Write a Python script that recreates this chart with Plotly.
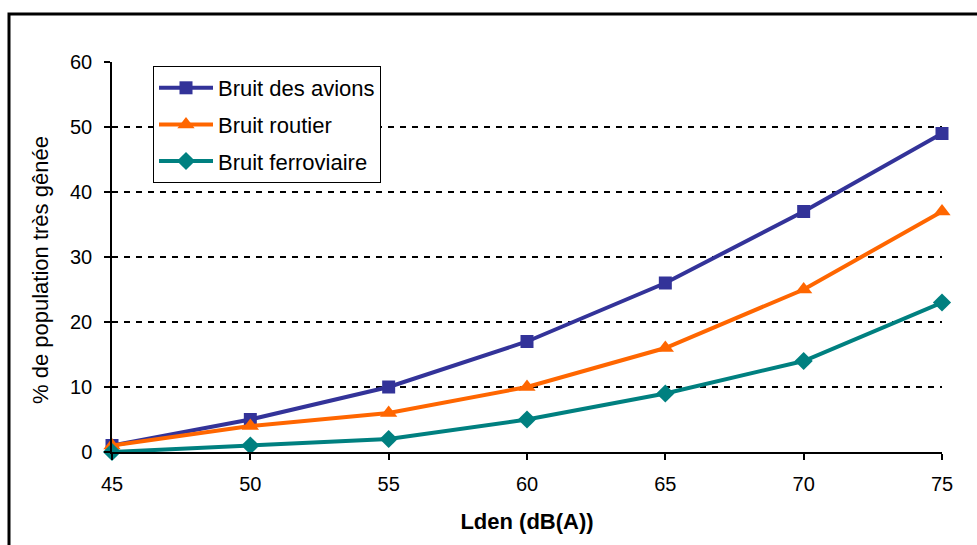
import plotly.graph_objects as go

# Lden levels (dB(A)) and share of population highly annoyed (%)
lden = [45, 50, 55, 60, 65, 70, 75]
avions = [1, 5, 10, 17, 26, 37, 49]
routier = [1, 4, 6, 10, 16, 25, 37]
ferroviaire = [0, 1, 2, 5, 9, 14, 23]

y_ticks = [0, 10, 20, 30, 40, 50, 60]

FONT = "Liberation Sans, Arial, sans-serif"

series = [
    ("Bruit des avions", avions, "#333399", "square", 13),
    ("Bruit routier", routier, "#FF6600", "triangle-up", 15),
    ("Bruit ferroviaire", ferroviaire, "#008080", "diamond", 14),
]

fig = go.Figure()
for i, (name, vals, color, symbol, msize) in enumerate(series):
    fig.add_trace(go.Scatter(
        x=lden, y=vals, name=name, mode="lines+markers",
        line=dict(color=color, width=4),
        marker=dict(symbol=symbol, size=msize, color=color),
        cliponaxis=False, legendgroup=f"g{i}",
    ))

# plot area spans x 112..942 px and y 62..452 px
PL, PR, PT, PB = 112, 942, 62, 452
PW, PH = PR - PL, PB - PT

fig.update_layout(
    width=977, height=545,
    margin=dict(l=PL, r=977 - PR, t=PT, b=545 - PB),
    paper_bgcolor="white", plot_bgcolor="white",
    font=dict(family=FONT, size=20, color="black"),
    showlegend=True,
    legend=dict(
        x=(153 - PL) / PW, y=(PB - 66) / PH, xanchor="left", yanchor="top",
        bgcolor="white", bordercolor="black", borderwidth=1,
        font=dict(size=22), traceorder="grouped", tracegroupgap=5,
        itemwidth=54,
    ),
    xaxis=dict(
        range=[45, 75], tickvals=lden, showgrid=False, zeroline=False,
        showline=True, linecolor="black", linewidth=1.5,
        ticks="outside", ticklen=6, tickcolor="black", tickwidth=1.5,
        ticklabelstandoff=7,
        title=dict(text="<b>Lden (dB(A))</b>", font=dict(size=22), standoff=20),
    ),
    yaxis=dict(
        range=[0, 60], tickvals=y_ticks, zeroline=False,
        showgrid=True, gridcolor="black", gridwidth=1.5, griddash="6px,6px",
        showline=True, linecolor="black", linewidth=1.5,
        ticks="outside", ticklen=6, tickcolor="black", tickwidth=1.5,
        ticklabelstandoff=8,
    ),
    annotations=[dict(
        text="% de population très gênée", textangle=-90,
        xref="paper", yref="paper",
        x=(40 - PL) / PW, y=(PB - 270) / PH,
        xanchor="center", yanchor="middle", showarrow=False,
        font=dict(size=22),
    )],
    shapes=[dict(
        type="rect", xref="paper", yref="paper",
        x0=(9 - PL) / PW, x1=(1000 - PL) / PW,
        y0=-0.3, y1=(PB - 14) / PH,
        line=dict(color="black", width=3), layer="below",
    )],
)

fig.write_html("out.html")
